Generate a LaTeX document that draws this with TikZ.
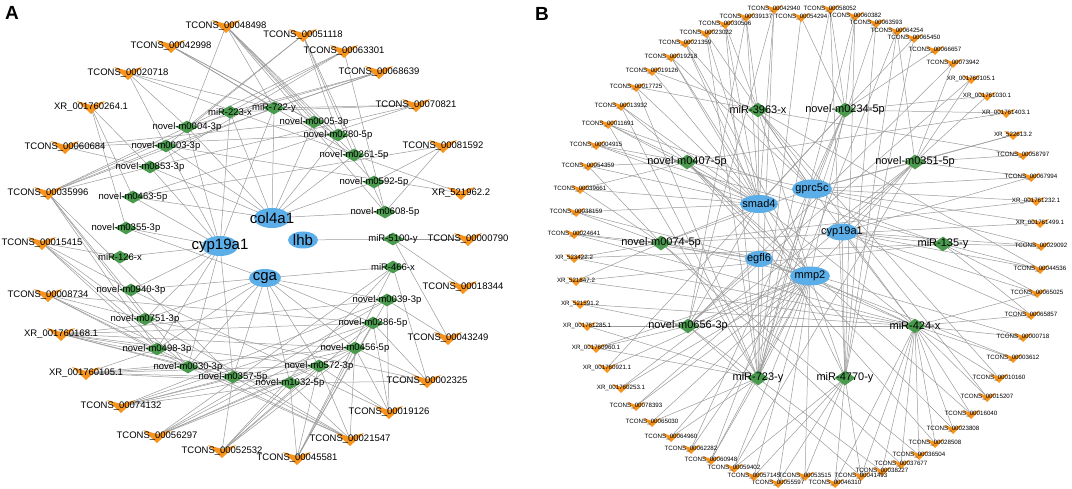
\documentclass[tikz,border=0pt]{standalone}
\usepackage{fontspec}
\setmainfont{Liberation Sans}
\usetikzlibrary{shapes.geometric}
\pgfdeclarelayer{bg}
\pgfsetlayers{bg,main}
\definecolor{lncOrange}{HTML}{F7941D}
\definecolor{mirGreen}{HTML}{4A9A4E}
\definecolor{geneBlue}{HTML}{5BAEE8}
\definecolor{linkGray}{HTML}{9A9A9A}

\begin{document}
\begin{tikzpicture}[x=1pt,y=-1pt,
  link/.style={draw=linkGray,line width=0.5pt},
  labA/.style={font=\fontsize{9.5}{10}\selectfont,inner sep=0pt},
  bigA/.style={font=\fontsize{15}{16}\selectfont,inner sep=0pt},
  labB/.style={font=\fontsize{6.2}{7}\selectfont,inner sep=0pt},
  midB/.style={font=\fontsize{11}{12}\selectfont,inner sep=0pt},
  mirA/.style={shape=diamond,fill=mirGreen,inner sep=0pt,minimum width=22pt,minimum height=13pt},
  mirB/.style={mirA,minimum width=21pt,minimum height=15pt},
  geneA/.style={shape=ellipse,fill=geneBlue,inner sep=0pt,minimum width=36pt,minimum height=20pt},
  geneB/.style={geneA,minimum width=38pt,minimum height=18pt},
  panel/.style={font=\fontsize{19}{20}\selectfont\bfseries},
  vA/.pic={\fill[lncOrange] (-14,-6) -- (0,-2) -- (14,-6) -- (0,7) -- cycle;},
  vB/.pic={\fill[lncOrange] (-9,-4) -- (0,-1.2) -- (9,-4) -- (0,5) -- cycle;}]
\useasboundingbox (0,0) rectangle (1072,489);

\node[panel] (panelA) at (12,13) {A};
\node[panel] (panelB) at (542,14) {B};

% ---------------- A ----------------
\node[geneA,label={[bigA]center:col4a1}] (col4a1) at (272,218) {};
\node[geneA,label={[bigA]center:cyp19a1}] (cyp19a1) at (220,246) {};
\node[geneA,minimum width=30pt,minimum height=17pt,label={[bigA]center:lhb}] (lhb) at (303,240) {};
\node[geneA,minimum width=32pt,minimum height=18pt,label={[bigA]center:cga}] (cga) at (265,278) {};

\node[mirA,label={[labA]center:miR-223-x}] (m223) at (230,112) {};
\node[mirA,label={[labA]center:miR-722-y}] (m722) at (274,108) {};
\node[mirA,label={[labA]center:novel-m0004-3p}] (m0004) at (187,127) {};
\node[mirA,label={[labA]center:novel-m0005-3p}] (m0005) at (314,122) {};
\node[mirA,label={[labA]center:novel-m0003-3p}] (m0003) at (166,146) {};
\node[mirA,label={[labA]center:novel-m0280-5p}] (m0280) at (338,135) {};
\node[mirA,label={[labA]center:novel-m0261-5p}] (m0261) at (354,155) {};
\node[mirA,label={[labA]center:novel-m0853-3p}] (m0853) at (150,167) {};
\node[mirA,label={[labA]center:novel-m0592-5p}] (m0592) at (374,182) {};
\node[mirA,label={[labA]center:novel-m0463-5p}] (m0463) at (133,197) {};
\node[mirA,label={[labA]center:novel-m0608-5p}] (m0608) at (385,212) {};
\node[mirA,label={[labA]center:novel-m0355-3p}] (m0355) at (126,228) {};
\node[mirA,label={[labA]center:miR-126-x}] (m126) at (120,257) {};
\node[mirA,label={[labA]center:miR-5100-y}] (m5100) at (393,239) {};
\node[mirA,label={[labA]center:miR-466-x}] (m466) at (393,267) {};
\node[mirA,label={[labA]center:novel-m0940-3p}] (m0940) at (131,290) {};
\node[mirA,label={[labA]center:novel-m0039-3p}] (m0039) at (387,300) {};
\node[mirA,label={[labA]center:novel-m0751-3p}] (m0751) at (145,319) {};
\node[mirA,label={[labA]center:novel-m0286-5p}] (m0286) at (373,323) {};
\node[mirA,label={[labA]center:novel-m0498-3p}] (m0498) at (157,349) {};
\node[mirA,label={[labA]center:novel-m0456-5p}] (m0456) at (355,348) {};
\node[mirA,label={[labA]center:novel-m0030-3p}] (m0030) at (188,367) {};
\node[mirA,label={[labA]center:novel-m0572-3p}] (m0572) at (319,366) {};
\node[mirA,label={[labA]center:novel-m0357-5p}] (m0357) at (233,377) {};
\node[mirA,label={[labA]center:novel-m1032-5p}] (m1032) at (290,383) {};

\pic at (226,26) {vA}; \node[labA] (t48498) at (226,26) {TCONS\_00048498};
\pic at (171,46) {vA}; \node[labA] (t42998) at (171,46) {TCONS\_00042998};
\pic at (303,35) {vA}; \node[labA] (t51118) at (303,35) {TCONS\_00051118};
\pic at (344,51) {vA}; \node[labA] (t63301) at (344,51) {TCONS\_00063301};
\pic at (379,72) {vA}; \node[labA] (t68639) at (379,72) {TCONS\_00068639};
\pic at (128,73) {vA}; \node[labA] (t20718) at (128,73) {TCONS\_00020718};
\pic at (416,105) {vA}; \node[labA] (t70821) at (416,105) {TCONS\_00070821};
\pic at (91,107) {vA}; \node[labA] (xr264) at (91,107) {XR\_001760264.1};
\pic at (65,147) {vA}; \node[labA] (t60684) at (65,147) {TCONS\_00060684};
\pic at (443,146) {vA}; \node[labA] (t81592) at (443,146) {TCONS\_00081592};
\pic at (48,193) {vA}; \node[labA] (t35996) at (48,193) {TCONS\_00035996};
\pic at (461,193) {vA}; \node[labA] (xr962) at (461,193) {XR\_521962.2};
\pic at (42,243) {vA}; \node[labA] (t15415) at (42,243) {TCONS\_00015415};
\pic at (468,239) {vA}; \node[labA] (t00790) at (468,239) {TCONS\_00000790};
\pic at (463,287) {vA}; \node[labA] (t18344) at (463,287) {TCONS\_00018344};
\pic at (48,295) {vA}; \node[labA] (t08734) at (48,295) {TCONS\_00008734};
\pic at (61,334) {vA}; \node[labA] (xr168) at (61,334) {XR\_001760168.1};
\pic at (448,338) {vA}; \node[labA] (t43249) at (448,338) {TCONS\_00043249};
\pic at (86,373) {vA}; \node[labA] (xr105) at (86,373) {XR\_001760105.1};
\pic at (427,381) {vA}; \node[labA] (t02325) at (427,381) {TCONS\_00002325};
\pic at (121,406) {vA}; \node[labA] (t74132) at (121,406) {TCONS\_00074132};
\pic at (389,412) {vA}; \node[labA] (t19126) at (389,412) {TCONS\_00019126};
\pic at (157,436) {vA}; \node[labA] (t56297) at (157,436) {TCONS\_00056297};
\pic at (350,439) {vA}; \node[labA] (t21547) at (350,439) {TCONS\_00021547};
\pic at (222,451) {vA}; \node[labA] (t52532) at (222,451) {TCONS\_00052532};
\pic at (297,458) {vA}; \node[labA] (t45581) at (297,458) {TCONS\_00045581};

\begin{pgfonlayer}{bg}
\foreach \m in {m223,m722,m0004,m0003,m0005,m0280,m0261,m0592,m0608,m0853,m0463} \draw[link] (col4a1.center) -- (\m.center);
\foreach \m in {m0853,m0463,m0355,m126,m0940,m0751,m0498,m0030,m0004,m0003,m223,m722,m0357} \draw[link] (cyp19a1.center) -- (\m.center);
\foreach \m in {m466,m0039,m0286,m0456,m0572,m1032,m0357,m0030,m0498,m0751,m0940,m0355} \draw[link] (cga.center) -- (\m.center);
\draw[link] (lhb.center) -- (m5100.center);
\foreach \m in {m0004,m0005,m0280,m0261,m0592,m0608,m722} \draw[link] (t48498.center) -- (\m.center);
\foreach \m in {m0005,m0280,m0261,m722} \draw[link] (t42998.center) -- (\m.center);
\foreach \m in {m0004,m0003,m0280,m0608,m0261} \draw[link] (t51118.center) -- (\m.center);
\foreach \m in {m223,m0004,m0853,m0608} \draw[link] (t63301.center) -- (\m.center);
\foreach \m in {m223,m722,m0004,m0003} \draw[link] (t68639.center) -- (\m.center);
\foreach \m in {m0004,m0003,m722,m0261} \draw[link] (t20718.center) -- (\m.center);
\foreach \m in {m223,m0853,m0463,m722} \draw[link] (t70821.center) -- (\m.center);
\foreach \m in {m0853,m0463,m0355} \draw[link] (xr264.center) -- (\m.center);
\foreach \m in {m0853,m0005,m0280} \draw[link] (t60684.center) -- (\m.center);
\foreach \m in {m0592,m0608,m0463} \draw[link] (t81592.center) -- (\m.center);
\foreach \m in {m0261,m0003} \draw[link] (xr962.center) -- (\m.center);
\foreach \m in {m223,m722,m0004,m0003,m0853,m0751,m0498,m0030,m0357} \draw[link] (t35996.center) -- (\m.center);
\foreach \m in {m126,m0940,m0751,m0498,m0030} \draw[link] (t15415.center) -- (\m.center);
\foreach \m in {m0751,m0498,m0030,m0357,m0286} \draw[link] (t08734.center) -- (\m.center);
\foreach \m in {m0498,m0030,m0357,m1032,m0572,m0456,m0286,m0039} \draw[link] (xr168.center) -- (\m.center);
\foreach \m in {m0030,m0357,m1032,m0572,m0456,m0498} \draw[link] (xr105.center) -- (\m.center);
\foreach \m in {m0357,m1032,m0572,m0456,m0286,m0039} \draw[link] (t74132.center) -- (\m.center);
\foreach \m in {m1032,m0572,m0456,m0286,m0039,m466} \draw[link] (t56297.center) -- (\m.center);
\foreach \m in {m0357,m1032,m0572,m0456,m0286,m466} \draw[link] (t52532.center) -- (\m.center);
\foreach \m in {m1032,m0572,m0456,m0286,m466,m0039} \draw[link] (t45581.center) -- (\m.center);
\foreach \m in {m1032,m0572,m0456,m0498,m0030,m0357,m0751} \draw[link] (t21547.center) -- (\m.center);
\foreach \m in {m0572,m0456,m0286,m0039,m0940} \draw[link] (t19126.center) -- (\m.center);
\foreach \m in {m0456,m0286,m466,m1032,m0751} \draw[link] (t02325.center) -- (\m.center);
\foreach \m in {m0039,m5100} \draw[link] (t43249.center) -- (\m.center);
\draw[link] (t00790.center) -- (m5100.center);
\draw[link] (t18344.center) -- (m5100.center);
\end{pgfonlayer}

% ---------------- B ----------------
\node[geneB,label={[midB]center:smad4}] (smad4) at (759,204) {};
\node[geneB,minimum width=40pt,minimum height=19pt,label={[midB]center:gprc5c}] (gprc5c) at (812,189) {};
\node[geneB,minimum width=32pt,minimum height=17pt,label={[midB]center:cyp19a1}] (cypB) at (842,232) {};
\node[geneB,minimum width=28pt,minimum height=16pt,label={[midB]center:egfl6}] (egfl6) at (759,259) {};
\node[geneB,minimum width=40pt,minimum height=19pt,label={[midB]center:mmp2}] (mmp2) at (810,276) {};

\node[mirB,label={[midB]center:miR-3963-x}] (d3963) at (758,110) {};
\node[mirB,label={[midB]center:novel-m0234-5p}] (d0234) at (845,110) {};
\node[mirB,label={[midB]center:novel-m0407-5p}] (d0407) at (687,162) {};
\node[mirB,label={[midB]center:novel-m0351-5p}] (d0351) at (915,162) {};
\node[mirB,label={[midB]center:novel-m0074-5p}] (d0074) at (661,243) {};
\node[mirB,label={[midB]center:miR-135-y}] (d135) at (943,244) {};
\node[mirB,label={[midB]center:novel-m0656-3p}] (d0656) at (688,326) {};
\node[mirB,label={[midB]center:miR-424-x}] (d424) at (915,326) {};
\node[mirB,label={[midB]center:miR-723-y}] (d723) at (758,378) {};
\node[mirB,label={[midB]center:miR-4770-y}] (d4770) at (845,378) {};

\pic at (588,166) {vB}; \node[labB] (b54359) at (588,166) {TCONS\_00054359};
\pic at (596,145) {vB}; \node[labB] (b04915) at (596,145) {TCONS\_00004915};
\pic at (608,124) {vB}; \node[labB] (b11691) at (608,124) {TCONS\_00011691};
\pic at (621,106) {vB}; \node[labB] (b13932) at (621,106) {TCONS\_00013932};
\pic at (636,87) {vB}; \node[labB] (b17725) at (636,87) {TCONS\_00017725};
\pic at (652,71) {vB}; \node[labB] (b19126) at (652,71) {TCONS\_00019126};
\pic at (671,57) {vB}; \node[labB] (b19218) at (671,57) {TCONS\_00019218};
\pic at (685,43) {vB}; \node[labB] (b21359) at (685,43) {TCONS\_00021359};
\pic at (706,33) {vB}; \node[labB] (b23022) at (706,33) {TCONS\_00023022};
\pic at (725,24) {vB}; \node[labB] (b30506) at (725,24) {TCONS\_00030506};
\pic at (746,17) {vB}; \node[labB] (b39137) at (746,17) {TCONS\_00039137};
\pic at (774,9) {vB}; \node[labB] (b42940) at (774,9) {TCONS\_00042940};
\pic at (801,17) {vB}; \node[labB] (b54294) at (801,17) {TCONS\_00054294};
\pic at (830,9) {vB}; \node[labB] (b58052) at (830,9) {TCONS\_00058052};
\pic at (855,16) {vB}; \node[labB] (b60382) at (855,16) {TCONS\_00060382};
\pic at (876,23) {vB}; \node[labB] (b63593) at (876,23) {TCONS\_00063593};
\pic at (897,31) {vB}; \node[labB] (b64254) at (897,31) {TCONS\_00064254};
\pic at (914,38) {vB}; \node[labB] (b65450) at (914,38) {TCONS\_00065450};
\pic at (935,50) {vB}; \node[labB] (b66657) at (935,50) {TCONS\_00066657};
\pic at (953,63) {vB}; \node[labB] (b73942) at (953,63) {TCONS\_00073942};
\pic at (971,79) {vB}; \node[labB] (bxr105) at (971,79) {XR\_001760105.1};
\pic at (987,96) {vB}; \node[labB] (bxr1030) at (987,96) {XR\_001761030.1};
\pic at (1006,113) {vB}; \node[labB] (bxr1403) at (1006,113) {XR\_001761403.1};
\pic at (1013,135) {vB}; \node[labB] (bxr613) at (1013,135) {XR\_522613.2};
\pic at (1023,155) {vB}; \node[labB] (b58797) at (1023,155) {TCONS\_00058797};
\pic at (1031,177) {vB}; \node[labB] (b67994) at (1031,177) {TCONS\_00067994};
\pic at (1036,201) {vB}; \node[labB] (bxr1232) at (1036,201) {XR\_001761232.1};
\pic at (1040,223) {vB}; \node[labB] (bxr1499) at (1040,223) {XR\_001761499.1};
\pic at (1041,246) {vB}; \node[labB] (b29092) at (1041,246) {TCONS\_00029092};
\pic at (1040,269) {vB}; \node[labB] (b44536) at (1040,269) {TCONS\_00044536};
\pic at (1037,293) {vB}; \node[labB] (b65025) at (1037,293) {TCONS\_00065025};
\pic at (1031,315) {vB}; \node[labB] (b65857) at (1031,315) {TCONS\_00065857};
\pic at (1023,337) {vB}; \node[labB] (b00718) at (1023,337) {TCONS\_00000718};
\pic at (1013,358) {vB}; \node[labB] (b03612) at (1013,358) {TCONS\_00003612};
\pic at (999,378) {vB}; \node[labB] (b10160) at (999,378) {TCONS\_00010160};
\pic at (987,397) {vB}; \node[labB] (b15207) at (987,397) {TCONS\_00015207};
\pic at (971,414) {vB}; \node[labB] (b16040) at (971,414) {TCONS\_00016040};
\pic at (953,429) {vB}; \node[labB] (b23808) at (953,429) {TCONS\_00023808};
\pic at (935,443) {vB}; \node[labB] (b28508) at (935,443) {TCONS\_00028508};
\pic at (919,455) {vB}; \node[labB] (b36504) at (919,455) {TCONS\_00036504};
\pic at (901,464) {vB}; \node[labB] (b37677) at (901,464) {TCONS\_00037677};
\pic at (882,471) {vB}; \node[labB] (b38227) at (882,471) {TCONS\_00038227};
\pic at (861,476) {vB}; \node[labB] (b41493) at (861,476) {TCONS\_00041493};
\pic at (835,483) {vB}; \node[labB] (b46310) at (835,483) {TCONS\_00046310};
\pic at (805,476) {vB}; \node[labB] (b53515) at (805,476) {TCONS\_00053515};
\pic at (778,483) {vB}; \node[labB] (b55597) at (778,483) {TCONS\_00055597};
\pic at (754,476) {vB}; \node[labB] (b57145) at (754,476) {TCONS\_00057145};
\pic at (734,468) {vB}; \node[labB] (b59402) at (734,468) {TCONS\_00059402};
\pic at (711,460) {vB}; \node[labB] (b60948) at (711,460) {TCONS\_00060948};
\pic at (691,449) {vB}; \node[labB] (b62282) at (691,449) {TCONS\_00062282};
\pic at (671,437) {vB}; \node[labB] (b64960) at (671,437) {TCONS\_00064960};
\pic at (652,422) {vB}; \node[labB] (b65030) at (652,422) {TCONS\_00065030};
\pic at (636,406) {vB}; \node[labB] (b78393) at (636,406) {TCONS\_00078393};
\pic at (621,388) {vB}; \node[labB] (bxr253) at (621,388) {XR\_001760253.1};
\pic at (607,368) {vB}; \node[labB] (bxr921) at (607,368) {XR\_001760921.1};
\pic at (596,348) {vB}; \node[labB] (bxr960) at (596,348) {XR\_001760960.1};
\pic at (587,326) {vB}; \node[labB] (bxr1285) at (587,326) {XR\_001761285.1};
\pic at (580,304) {vB}; \node[labB] (bxr591) at (580,304) {XR\_521591.2};
\pic at (576,281) {vB}; \node[labB] (bxr847) at (576,281) {XR\_521847.2};
\pic at (574,258) {vB}; \node[labB] (bxr422) at (574,258) {XR\_523422.2};
\pic at (574,234) {vB}; \node[labB] (b24641) at (574,234) {TCONS\_00024641};
\pic at (576,212) {vB}; \node[labB] (b38159) at (576,212) {TCONS\_00038159};
\pic at (580,189) {vB}; \node[labB] (b39661) at (580,189) {TCONS\_00039661};

\begin{pgfonlayer}{bg}
\foreach \m in {d3963,d0234,d0407,d0074,d0656,d723,d4770,d424} \draw[link] (smad4.center) -- (\m.center);
\foreach \m in {d0234,d3963,d0351,d0074,d723,d424,d0407} \draw[link] (gprc5c.center) -- (\m.center);
\foreach \m in {d135,d0351,d4770,d424} \draw[link] (cypB.center) -- (\m.center);
\foreach \m in {d0074,d424,d0656} \draw[link] (egfl6.center) -- (\m.center);
\foreach \m in {d0656,d723,d4770,d424,d0074,d0407,d0351,d3963,d0234} \draw[link] (mmp2.center) -- (\m.center);
\foreach \t in {b54359,b04915,b11691,b13932,b17725,b19126,b19218,b21359,b23022,b30506,b39137,b42940,b39661,b38159} \draw[link] (smad4.center) -- (\t.center);
\foreach \t in {b11691,b13932,b17725,b23022,b30506,b42940,b54294,b58052,b60382,b63593,b64254,b60948,b64960,b65030,bxr960,bxr1285} \draw[link] (d723.center) -- (\t.center);
\foreach \t in {b65025,b65857,b00718,b03612,b10160,b15207,b16040,b23808,b28508,b36504,b37677,b38227,b41493,b46310,bxr1285,bxr591,bxr847,bxr422,b24641} \draw[link] (d424.center) -- (\t.center);
\foreach \t in {b19218,b21359,b53515,b55597,b57145,b59402,b60948,b62282,b64960,b65030,b78393,bxr253,bxr921,bxr960} \draw[link] (mmp2.center) -- (\t.center);
\foreach \t in {b58052,b60382,b63593,b64254,b65450,b41493,b46310,b53515,b55597,b57145,b59402} \draw[link] (d4770.center) -- (\t.center);
\foreach \t in {b54294,b58052,b60382,b65450,b66657,bxr1030,bxr1403,b60948,b62282,bxr921} \draw[link] (d0234.center) -- (\t.center);
\foreach \t in {b64254,b73942,bxr105,bxr1030,bxr613,b58797,b67994,b59402,b78393,bxr253} \draw[link] (d0351.center) -- (\t.center);
\foreach \t in {b04915,b11691,b29092,b44536,b65025,b65857,bxr847,bxr422} \draw[link] (d135.center) -- (\t.center);
\foreach \t in {b67994,b29092,b44536,b65025,b65857} \draw[link] (cypB.center) -- (\t.center);
\foreach \t in {b19218,b21359,b23022,bxr613,b67994,bxr1232,bxr1499,b29092} \draw[link] (gprc5c.center) -- (\t.center);
\foreach \t in {b54359,b39661,b38159,b24641,bxr422,bxr847,bxr1232,bxr1499,b36504,b37677} \draw[link] (d0074.center) -- (\t.center);
\foreach \t in {b39137,b42940,b73942,bxr105,b38227,b41493,bxr960,bxr1285,bxr591} \draw[link] (d0656.center) -- (\t.center);
\foreach \t in {b54359,b04915,b11691,b13932,b39661,bxr1403,b16040,b23808,b28508} \draw[link] (d0407.center) -- (\t.center);
\foreach \t in {b17725,b19126,b30506,b39137,b58797,b44536,b10160,b15207} \draw[link] (d3963.center) -- (\t.center);
\foreach \t in {b00718,b03612,b24641,b38159} \draw[link] (egfl6.center) -- (\t.center);
\end{pgfonlayer}
\end{tikzpicture}
\end{document}
